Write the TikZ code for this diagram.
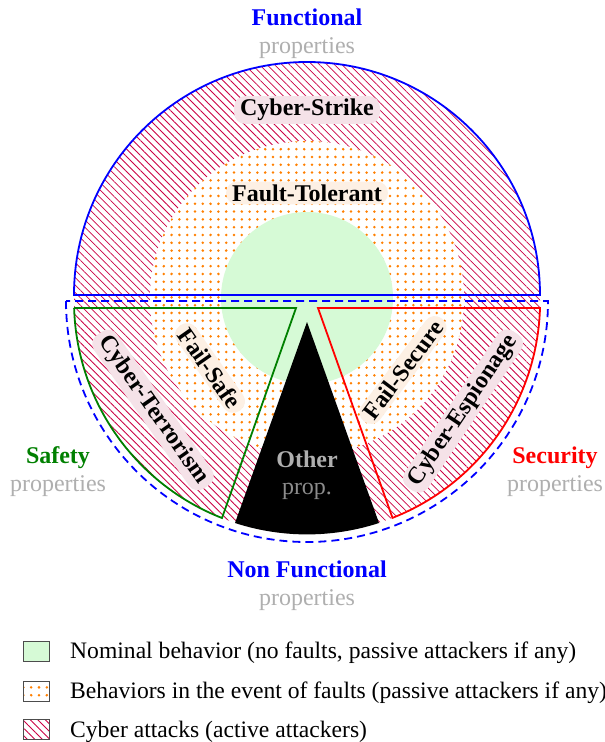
\documentclass[tikz,border=0pt]{standalone}
\usepackage{fontspec}
\setmainfont{Liberation Serif}
\usetikzlibrary{patterns.meta}
\definecolor{hatchc}{RGB}{204,0,68}
\definecolor{dotc}{RGB}{255,128,0}
\definecolor{nomc}{RGB}{214,250,214}
\definecolor{pinkbg}{RGB}{245,226,232}
\definecolor{peachbg}{RGB}{253,240,228}
\definecolor{propgray}{RGB}{175,175,175}
\definecolor{safegreen}{RGB}{0,128,0}
\begin{document}
\begin{tikzpicture}[x=1pt,y=-1pt,
  txt/.style={font=\fontsize{24}{28}\selectfont, inner sep=0pt},
  legtxt/.style={font=\fontsize{23.6}{28}\selectfont, inner sep=0pt},
  bold/.style={font=\fontsize{24}{28}\selectfont\bfseries, inner sep=0pt},
  pill/.style={font=\fontsize{24}{28}\selectfont\bfseries, rounded corners=11pt, inner xsep=6pt, inner ysep=3pt},
  hatchfill/.style={pattern={Lines[angle=-45,distance=5.3pt,line width=0.8pt]}, pattern color=hatchc},
  dotfill/.style={pattern={Dots[distance=7.8pt,radius=1.4pt]}, pattern color=dotc},
  outline/.style={line width=1.8pt},
  legbox/.style={draw=black!70, line width=0.8pt, minimum width=26pt, minimum height=20pt, inner sep=0pt}
]
\fill[white] (0,0) rectangle (605,742);
\useasboundingbox (0,0) rectangle (605,742);

% hatched disk (cyber attacks)
\fill[hatchfill] (74,295) arc[start angle=180, end angle=360, radius=233] -- (540,301)
  arc[start angle=0, end angle=180, radius=233] -- cycle;
% faults region
\fill[white] (307,298) circle (157);
\fill[dotfill] (307,298) circle (157);
% nominal region
\fill[nomc] (307,298) circle (86);
% other properties
\fill[black] (307,322) -- (235,523) arc[start angle=108, end angle=72, radius=233] -- cycle;

% outlines
\draw[outline, blue] (74,295) arc[start angle=180, end angle=360, radius=233] -- cycle;
\draw[outline, blue, dash pattern=on 8pt off 5pt] (66,301) arc[start angle=180, end angle=0, radius=241] -- cycle;
\draw[outline, safegreen] (74,308) -- (296,308) -- (222,518) arc[start angle=111.4, end angle=178.3, radius=233] -- cycle;
\draw[outline, red] (318,308) -- (540,308) arc[start angle=1.7, end angle=68.5, radius=233] -- cycle;

% region labels
\node[pill, fill=pinkbg] (cs) at (307,110) {Cyber-Strike};
\node[pill, fill=peachbg] (ft) at (307,193) {Fault-Tolerant};
\node[pill, fill=peachbg, rotate=-55] (fsafe) at (210,368) {Fail-Safe};
\node[pill, fill=pinkbg, rotate=-55] (ct) at (153,410) {Cyber-Terrorism};
\node[pill, fill=peachbg, rotate=53] (fsec) at (403,370) {Fail-Secure};
\node[pill, fill=pinkbg, rotate=56] (ce) at (463,411) {Cyber-Espionage};
\node[bold, text=propgray, anchor=base] (oth) at (307,467) {Other};
\node[txt, text=black!45, anchor=base] (prp) at (307,494) {prop.};

% property labels
\node[bold, text=blue, anchor=base] (fun) at (307,25) {Functional};
\node[txt, text=propgray, anchor=base] (funp) at (307,53) {properties};
\node[bold, text=blue, anchor=base] (nf) at (307,577) {Non Functional};
\node[txt, text=propgray, anchor=base] (nfp) at (307,605) {properties};
\node[bold, text=safegreen, anchor=base] (saf) at (58,463) {Safety};
\node[txt, text=propgray, anchor=base] (safp) at (58,491) {properties};
\node[bold, text=red, anchor=base] (sec) at (555,463) {Security};
\node[txt, text=propgray, anchor=base] (secp) at (555,491) {properties};

% legend
\node[legbox, fill=nomc] (l1) at (36,651) {};
\node[legbox, dotfill] (l2) at (36,691) {};
\node[legbox, hatchfill] (l3) at (36,729) {};
\node[legtxt, anchor=base west] (t1) at (70,658) {Nominal behavior (no faults, passive attackers if any)};
\node[legtxt, anchor=base west] (t2) at (70,698) {Behaviors in the event of faults (passive attackers if any)};
\node[legtxt, anchor=base west] (t3) at (70,737) {Cyber attacks (active attackers)};
\end{tikzpicture}
\end{document}
